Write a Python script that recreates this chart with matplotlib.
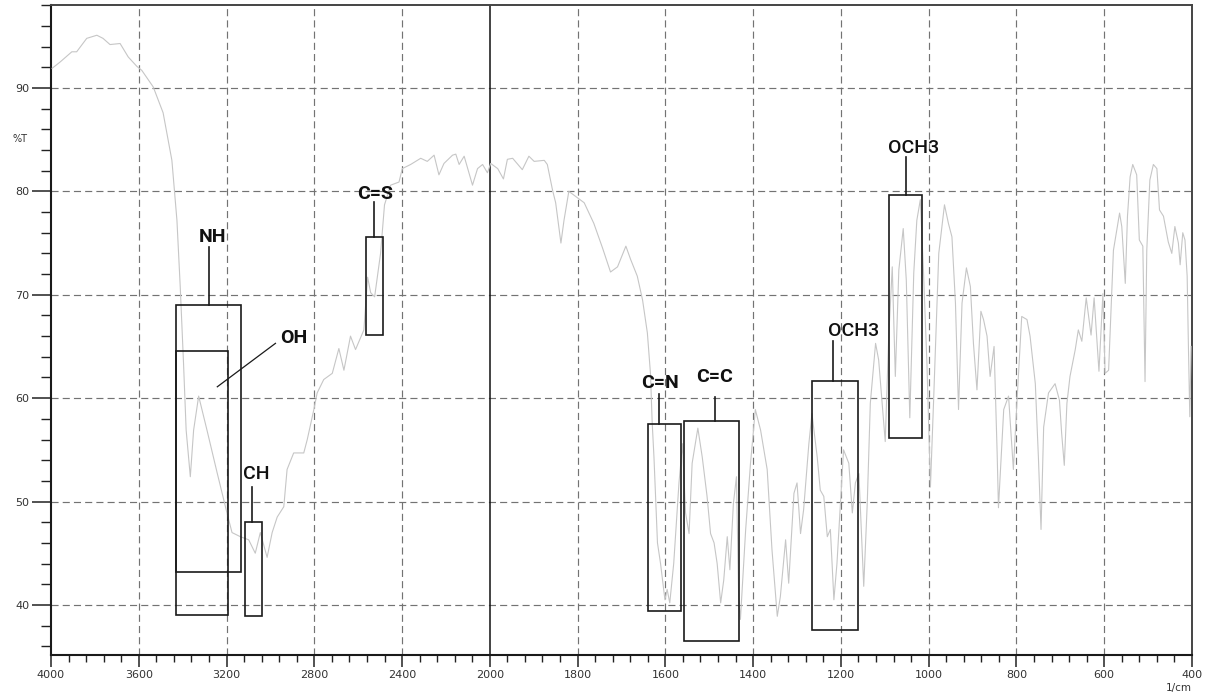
import numpy as np
import matplotlib
matplotlib.use("Agg")
import matplotlib.pyplot as plt
from matplotlib.patches import Rectangle
from matplotlib.ticker import FixedLocator, StrMethodFormatter

# FT-IR transmittance spectrum, wavenumber (1/cm) and %T
wavenumber = [
    3995, 3959, 3905, 3883, 3837, 3791, 3763, 3731, 3685, 3648, 3609, 3586,
    3534, 3489, 3449, 3426, 3411, 3396, 3384, 3365, 3350, 3327, 3289, 3243,
    3198, 3175, 3137, 3099, 3069, 3046, 3015, 2992, 2969, 2939, 2924, 2894,
    2848, 2832, 2802, 2787, 2757, 2718, 2688, 2665, 2635, 2612, 2574, 2557,
    2543, 2525, 2498, 2480, 2452, 2414, 2399, 2361, 2315, 2285, 2254, 2232,
    2209, 2170, 2155, 2140, 2117, 2095, 2079, 2056, 2033, 2011,
    1998, 1982, 1969, 1960, 1948, 1926, 1911, 1899, 1876, 1869, 1857, 1850,
    1838, 1831, 1820, 1804, 1785, 1763, 1743, 1725, 1709, 1690, 1679, 1664,
    1652, 1641, 1634, 1630, 1626, 1618, 1611, 1601, 1596, 1590, 1581, 1569,
    1561, 1554, 1546, 1539, 1526, 1516, 1505, 1497, 1489, 1482, 1474, 1467,
    1459, 1453, 1445, 1438, 1433, 1429, 1417, 1406, 1395, 1383, 1368, 1357,
    1345, 1338, 1326, 1319, 1307, 1300, 1292, 1285, 1273, 1266, 1254, 1247,
    1239, 1231, 1224, 1216, 1209, 1201, 1194, 1182, 1174, 1167, 1159, 1148,
    1140, 1133, 1121, 1114, 1106, 1099, 1091, 1083, 1076, 1068, 1058, 1051,
    1043, 1034, 1027, 1019, 1012, 1004, 996, 989, 977, 964, 955, 947,
    939, 932, 924, 914, 905, 898, 890, 881, 875, 867, 860, 851,
    844, 841, 829, 818, 807, 799, 788, 776, 769, 757, 750, 744,
    738, 727, 712, 702, 697, 691, 685, 678, 666, 659, 651, 641,
    630, 623, 612, 603, 598, 590, 579, 565, 560, 552, 547, 541,
    535, 526, 520, 512, 507, 503, 496, 488, 480, 474, 465, 454,
    446, 439, 431, 427, 421, 416, 411, 408, 405, 402,
]
transmittance = [
    91.9, 92.5, 93.5, 93.5, 94.8, 95.1, 94.8, 94.2, 94.3, 93.0, 92.1, 91.7,
    90.1, 87.6, 83.0, 77.2, 70.8, 63.4, 56.9, 52.4, 56.9, 60.2, 56.9, 52.8,
    48.9, 47.0, 46.6, 46.3, 45.0, 47.0, 44.6, 47.0, 48.5, 49.5, 53.1, 54.7,
    54.7, 56.0, 58.9, 60.5, 61.8, 62.4, 64.8, 62.7, 66.0, 64.7, 66.6, 71.7,
    70.2, 69.8, 74.0, 78.7, 80.6, 80.9, 82.2, 82.6, 83.2, 82.9, 83.5, 81.6,
    82.7, 83.5, 83.6, 82.6, 83.4, 81.8, 80.6, 82.2, 82.6, 81.8,
    82.7, 82.2, 81.2, 83.1, 83.2, 82.1, 83.4, 82.9, 83.0, 82.6, 80.1, 78.9,
    75.0, 77.2, 80.0, 79.5, 78.9, 76.9, 74.5, 72.2, 72.7, 74.7, 73.4, 71.8,
    69.5, 66.3, 62.4, 57.6, 54.3, 46.0, 44.0, 40.5, 41.5, 40.2, 44.0, 51.8,
    55.6, 48.9, 46.9, 53.7, 57.1, 54.3, 50.5, 46.9, 46.0, 44.0, 40.2, 42.4,
    46.6, 43.4, 49.8, 52.4, 40.8, 38.6, 47.3, 53.7, 58.9, 56.9, 53.1, 45.3,
    38.9, 40.8, 46.3, 42.1, 50.8, 51.8, 46.9, 49.2, 55.6, 58.5, 54.3, 51.1,
    50.5, 46.6, 47.3, 40.5, 44.0, 49.8, 55.0, 53.7, 48.9, 51.8, 52.7, 41.8,
    49.8, 59.5, 65.3, 63.7, 59.5, 55.8, 66.0, 72.7, 62.1, 72.4, 76.4, 71.4,
    58.1, 72.1, 77.2, 79.2, 72.4, 63.4, 51.4, 59.5, 74.0, 78.7, 76.9, 75.6,
    69.2, 58.9, 69.2, 72.6, 70.8, 65.3, 60.8, 68.4, 67.6, 66.0, 62.1, 65.0,
    54.7, 49.4, 58.9, 60.2, 53.1, 59.5, 67.9, 67.6, 66.0, 61.4, 54.3, 47.3,
    57.2, 60.5, 61.4, 59.8, 56.6, 53.5, 59.5, 62.1, 64.7, 66.6, 65.5, 69.7,
    66.1, 69.7, 62.6, 70.1, 62.4, 62.7, 74.3, 77.9, 76.6, 71.1, 77.6, 81.4,
    82.6, 81.6, 75.3, 74.7, 61.6, 74.3, 81.1, 82.6, 82.2, 78.2, 77.6, 75.1,
    74.0, 76.6, 75.0, 72.9, 76.0, 75.3, 71.8, 64.7, 58.2, 65.0,
]

# assigned absorption bands: wavenumber window and %T window of each box
band_labels = ["NH", "OH", "CH", "C=S", "C=N", "C=C", "OCH3", "OCH3"]
band_hi = [3429, 3429, 3114, 2566, 1640, 1558, 1267, 1090]
band_lo = [3132, 3192, 3037, 2489, 1565, 1433, 1160, 1015]
band_bottom = [43.2, 39.0, 38.9, 66.1, 39.4, 36.5, 37.6, 56.1]
band_top = [69.0, 64.6, 48.0, 75.6, 57.5, 57.8, 61.7, 79.6]

x_major = [4000, 3600, 3200, 2800, 2400, 2000, 1800, 1600, 1400, 1200,
           1000, 800, 600, 400]
y_major = [40, 50, 60, 70, 80, 90]

# leader line (x0, y0, x1, y1), label position and weight for each band
leaders = [
    (3279, 69.0, 3279, 74.6, 3265, 75.6, "center", "bold"),
    (3242, 61.1, 2977, 65.3, 2954, 65.8, "left", "bold"),
    (3082, 48.0, 3082, 51.4, 3064, 52.7, "center", "medium"),
    (2530, 75.6, 2530, 79.0, 2521, 79.7, "center", "bold"),
    (1615, 57.5, 1615, 60.4, 1613, 61.5, "center", "bold"),
    (1488, 57.8, 1488, 60.1, 1488, 62.0, "center", "bold"),
    (1217, 61.7, 1217, 65.5, 1172, 66.5, "center", "medium"),
    (1052, 79.6, 1052, 83.3, 1034, 84.2, "center", "medium"),
]


def fwd(w):
    """Wavenumber -> axis units; below 2000 1/cm the scale is doubled."""
    w = np.asarray(w, dtype=float)
    return np.where(w <= 2000, w - 400, 1600 + (w - 2000) / 2.0)


def inv(u):
    u = np.asarray(u, dtype=float)
    return np.where(u <= 1600, u + 400, 2000 + (u - 1600) * 2.0)


fig = plt.figure(figsize=(12.11, 6.97), dpi=100)
ax = fig.add_axes([0.0421, 0.0603, 0.9422, 0.9326])
ax.set_xscale("function", functions=(fwd, inv))
ax.set_xlim(4000, 400)
ax.set_ylim(35.16, 98.03)

grid_kw = dict(color="#737373", lw=0.85, dashes=(6, 3.5), zorder=1)
for x in x_major[1:-1]:
    if x != 2000:
        ax.axvline(x, **grid_kw)
for y in y_major:
    ax.axhline(y, **grid_kw)
ax.axvline(2000, color="#111111", lw=1.1, zorder=2)

ax.plot(wavenumber, transmittance, color="#c6c6c6", lw=0.8, zorder=3)

for hi, lo, b, t in zip(band_hi, band_lo, band_bottom, band_top):
    ax.add_patch(Rectangle((lo, b), hi - lo, t - b, fill=False,
                           ec="#1a1a1a", lw=1.2, zorder=4))

for lab, (x0, y0, x1, y1, tx, ty, ha, fw) in zip(band_labels, leaders):
    ax.plot([x0, x1], [y0, y1], color="#1a1a1a",
            lw=1.2 if x0 == x1 else 0.9, zorder=4)
    ax.text(tx, ty, lab, ha=ha, va="center", fontsize=14,
            family=["Roboto", "DejaVu Sans"], fontweight=fw,
            color="#111111", zorder=5)

# ticks
x_minor = [v for v in range(3920, 2000, -80) if v not in x_major]
x_minor += [v for v in range(1960, 400, -40) if v not in x_major]
ax.xaxis.set_major_locator(FixedLocator(x_major))
ax.xaxis.set_minor_locator(FixedLocator(x_minor))
ax.xaxis.set_major_formatter(StrMethodFormatter("{x:.0f}"))
ax.xaxis.set_minor_formatter(StrMethodFormatter(""))
ax.yaxis.set_major_locator(FixedLocator(y_major))
ax.yaxis.set_minor_locator(FixedLocator(list(range(36, 99, 2))))
ax.yaxis.set_major_formatter(StrMethodFormatter("{x:.0f}"))

ax.tick_params(axis="x", which="major", length=8.5, width=1.1, pad=2,
               labelsize=8, labelcolor="#333333", color="#222222")
ax.tick_params(axis="x", which="minor", length=5, width=1.0,
               color="#222222")
ax.tick_params(axis="y", which="major", length=13.5, width=1.1, pad=2,
               labelsize=8, labelcolor="#333333", color="#222222")
ax.tick_params(axis="y", which="minor", length=7, width=1.0,
               color="#222222")

for side in ("left", "bottom"):
    ax.spines[side].set_linewidth(1.5)
    ax.spines[side].set_color("#1a1a1a")
for side in ("top", "right"):
    ax.spines[side].set_linewidth(1.4)
    ax.spines[side].set_color("#444444")

ax.set_ylabel("%T", rotation=0, fontsize=7, color="#333333",
              va="center", ha="center")
ax.yaxis.set_label_coords(-0.027, 0.794)
ax.set_xlabel("1/cm", fontsize=7.5, color="#333333", va="center",
              ha="center")
ax.xaxis.set_label_coords(0.9886, -0.0508)

fig.savefig("out.png", dpi=100)
